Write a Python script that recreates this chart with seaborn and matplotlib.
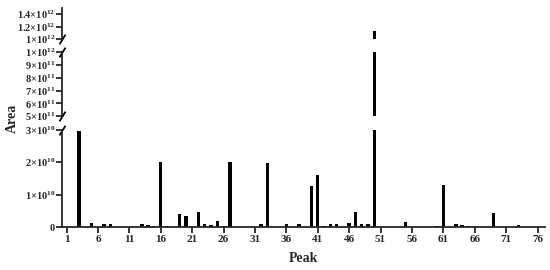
import matplotlib
matplotlib.use("Agg")
import matplotlib.pyplot as plt
import numpy as np
import pandas as pd
import seaborn as sns

# peak numbers and their areas
peaks = [3, 5, 7, 8, 9, 10, 11, 12, 13, 14, 15, 16, 17, 19, 20, 22, 23, 24, 25, 26,
         27, 29, 32, 33, 36, 38, 40, 41, 42, 43, 44, 46, 47, 48, 49, 50, 55, 60, 61,
         63, 64, 65, 66, 69, 73]
areas_e9 = [29.8, 1.3, 1.0, 0.8, 0.1, 0.1, 0.1, 0.1, 1.1, 0.7, 0.3, 20.1, 0.2, 3.9, 3.4,
            4.7, 0.9, 0.7, 1.9, 0.4, 20.1, 0.1, 1.0, 19.7, 0.8, 1.0, 12.7, 16.0, 0.3,
            1.1, 1.1, 1.2, 4.5, 0.9, 1.0, 1130.0, 1.7, 0.3, 13.1, 1.0, 0.7, 0.3, 0.3,
            4.4, 0.5]

x_ticks = list(range(1, 77, 5))
low_ticks = [0, 1e10, 2e10, 3e10]
low_labels = ["0", r"$\mathbf{1{\times}10^{10}}$", r"$\mathbf{2{\times}10^{10}}$",
              r"$\mathbf{3{\times}10^{10}}$"]
mid_ticks = [5e11, 6e11, 7e11, 8e11, 9e11, 1e12]
mid_labels = [r"$\mathbf{%d{\times}10^{11}}$" % v for v in (5, 6, 7, 8, 9)] + \
             [r"$\mathbf{1{\times}10^{12}}$"]
top_ticks = [1e12, 1.2e12, 1.4e12]
top_labels = [r"$\mathbf{1{\times}10^{12}}$", r"$\mathbf{1.2{\times}10^{12}}$",
              r"$\mathbf{1.4{\times}10^{12}}$"]

df = pd.DataFrame({"Peak": peaks, "Area": np.array(areas_e9) * 1e9})

sns.set_style("ticks")
plt.rcParams["font.family"] = ["Liberation Serif", "DejaVu Serif"]
plt.rcParams["font.weight"] = "bold"
plt.rcParams["mathtext.fontset"] = "custom"
plt.rcParams["mathtext.rm"] = "Liberation Serif:bold"
plt.rcParams["mathtext.bf"] = "Liberation Serif:bold"
plt.rcParams["axes.linewidth"] = 1.3
plt.rcParams["xtick.major.width"] = 1.3
plt.rcParams["ytick.major.width"] = 1.3

fig = plt.figure(figsize=(5.5, 2.7), dpi=100)
left, width = 0.113, 0.878
ax_low = fig.add_axes([left, 0.159, width, 0.360])
ax_mid = fig.add_axes([left, 0.570, width, 0.237])
ax_top = fig.add_axes([left, 0.856, width, 0.114])

for ax in (ax_low, ax_mid, ax_top):
    sns.barplot(data=df, x="Peak", y="Area", native_scale=True, color="black",
                width=0.55, linewidth=0, saturation=1, ax=ax)
    ax.set_xlim(0.3, 77.2)
    ax.set_xlabel("")
    ax.set_ylabel("")
    sns.despine(ax=ax)
    ax.tick_params(axis="y", length=4, labelsize=7.5, pad=1)

ax_low.set_ylim(0, 3e10)
ax_low.set_yticks(low_ticks)
ax_low.set_yticklabels(low_labels)
ax_low.set_xticks(x_ticks)
ax_low.set_xticklabels([str(t) for t in x_ticks])
ax_low.tick_params(axis="x", length=4, labelsize=8, pad=2)

ax_mid.set_ylim(5e11, 1e12)
ax_mid.set_yticks(mid_ticks)
ax_mid.set_yticklabels(mid_labels)

ax_top.set_ylim(1e12, 1.5e12)
ax_top.set_yticks(top_ticks)
ax_top.set_yticklabels(top_labels)

for ax in (ax_mid, ax_top):
    ax.spines["bottom"].set_visible(False)
    ax.tick_params(axis="x", bottom=False, labelbottom=False)

# break marks on the y axis
kw = dict(marker=[(-1, -1.6), (1, 1.6)], markersize=7, linestyle="none",
          color="black", mec="black", mew=1.3, clip_on=False)
ax_low.plot([0], [1], transform=ax_low.transAxes, **kw)
ax_mid.plot([0, 0], [0, 1], transform=ax_mid.transAxes, **kw)
ax_top.plot([0], [0], transform=ax_top.transAxes, **kw)

fig.text(0.552, 0.044, "Peak", ha="center", va="center", fontsize=10, fontweight="bold")
fig.text(0.022, 0.56, "Area", ha="center", va="center", rotation=90, fontsize=10,
         fontweight="bold")

fig.savefig("out.png", dpi=100)
